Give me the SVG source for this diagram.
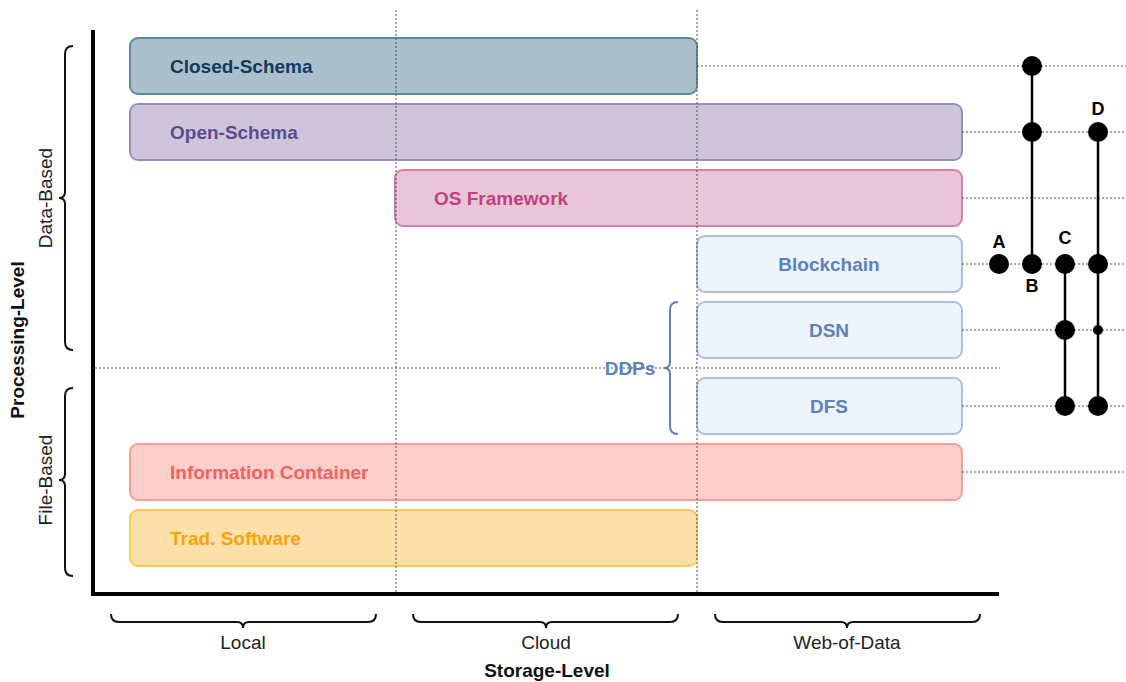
<svg xmlns="http://www.w3.org/2000/svg" width="1126" height="682" viewBox="0 0 1126 682">
<style>
text{font-family:"Liberation Sans",Arial,sans-serif}
.lbl{font-size:19px;font-weight:bold}
.ax{font-size:19px;fill:#222}
.axb{font-size:19px;font-weight:bold;fill:#111}
.dot{stroke:#555;stroke-width:1;stroke-dasharray:2,2;fill:none}
.brace{fill:none;stroke:#111;stroke-width:2}
.box{stroke-width:2}
.pt{fill:#000}
.ln{stroke:#000;stroke-width:2.5}
.let{font-size:18px;font-weight:bold;fill:#000;text-anchor:middle}
</style>
<rect width="1126" height="682" fill="#fff"/>
<g id="boxes">
<g id="closed-schema"><rect class="box" x="130" y="38" width="567" height="56" rx="8" fill="#abc0cd" stroke="#5b8a9f"/><text class="lbl" x="170" y="73" fill="#103a5e">Closed-Schema</text></g>
<g id="open-schema"><rect class="box" x="130" y="104" width="832" height="56" rx="8" fill="#cec5da" stroke="#9b8dbe"/><text class="lbl" x="170" y="139" fill="#5b4b8e">Open-Schema</text></g>
<g id="os-framework"><rect class="box" x="395" y="170" width="567" height="56" rx="8" fill="#e9c6d7" stroke="#d77fa6"/><text class="lbl" x="434" y="205" fill="#c2417d">OS Framework</text></g>
<g id="blockchain"><rect class="box" x="697" y="236" width="265" height="56" rx="8" fill="#eef3fc" stroke="#aabee0"/><text class="lbl" x="829" y="271" fill="#5b82c0" text-anchor="middle">Blockchain</text></g>
<g id="dsn"><rect class="box" x="697" y="302" width="265" height="56" rx="8" fill="#eef3fc" stroke="#aabee0"/><text class="lbl" x="829" y="337" fill="#5b82c0" text-anchor="middle">DSN</text></g>
<g id="dfs"><rect class="box" x="697" y="378" width="265" height="56" rx="8" fill="#eef3fc" stroke="#aabee0"/><text class="lbl" x="829" y="413" fill="#5b82c0" text-anchor="middle">DFS</text></g>
<g id="information-container"><rect class="box" x="130" y="444" width="832" height="56" rx="8" fill="#fdcfcb" stroke="#f79c9b"/><text class="lbl" x="170" y="479" fill="#f06262">Information Container</text></g>
<g id="trad-software"><rect class="box" x="130" y="510" width="567" height="56" rx="8" fill="#fde0a9" stroke="#fcc85c"/><text class="lbl" x="170" y="545" fill="#f5a40c">Trad. Software</text></g>
</g>
<g id="connectors">
<line class="dot" x1="396" y1="10" x2="396" y2="592"/>
<line class="dot" x1="697" y1="10" x2="697" y2="592"/>
<line class="dot" x1="95" y1="368" x2="1000" y2="368"/>
<line class="dot" x1="697" y1="66" x2="1126" y2="66"/>
<line class="dot" x1="962" y1="132" x2="1126" y2="132"/>
<line class="dot" x1="962" y1="198" x2="1126" y2="198"/>
<line class="dot" x1="962" y1="264" x2="1126" y2="264"/>
<line class="dot" x1="962" y1="330" x2="1126" y2="330"/>
<line class="dot" x1="962" y1="406" x2="1126" y2="406"/>
<line class="dot" x1="962" y1="472" x2="1126" y2="472"/>
<line class="ln" x1="1032" y1="66" x2="1032" y2="264"/>
<line class="ln" x1="1065" y1="264" x2="1065" y2="406"/>
<line class="ln" x1="1098" y1="132" x2="1098" y2="406"/>
</g>
<g id="axes">
<line x1="93" y1="30" x2="93" y2="596" stroke="#000" stroke-width="4"/>
<line x1="91" y1="594" x2="999" y2="594" stroke="#000" stroke-width="4"/>
</g>
<g id="points">
<circle class="pt" cx="999" cy="264" r="10"/>
<circle class="pt" cx="1032" cy="66" r="10"/>
<circle class="pt" cx="1032" cy="132" r="10"/>
<circle class="pt" cx="1032" cy="264" r="10"/>
<circle class="pt" cx="1065" cy="264" r="10"/>
<circle class="pt" cx="1065" cy="330" r="10"/>
<circle class="pt" cx="1065" cy="406" r="10"/>
<circle class="pt" cx="1098" cy="132" r="10"/>
<circle class="pt" cx="1098" cy="264" r="10"/>
<circle class="pt" cx="1098" cy="330" r="5"/>
<circle class="pt" cx="1098" cy="406" r="10"/>
<text class="let" x="999" y="248">A</text>
<text class="let" x="1032" y="292">B</text>
<text class="let" x="1065" y="244">C</text>
<text class="let" x="1098" y="115">D</text>
</g>
<g id="ddps">
<path d="M678,302 q-8,0 -8,8 V362 q0,6 -6,6 q6,0 6,6 V426 q0,8 8,8" fill="none" stroke="#5b82c0" stroke-width="2"/>
<text class="lbl" x="630" y="375" fill="#5b82c0" text-anchor="middle">DDPs</text>
</g>
<g id="processing-level">
<path class="brace" d="M73,46 q-8,0 -8,8 V192 q0,6 -6,6 q6,0 6,6 V342 q0,8 8,8"/>
<path class="brace" d="M73,388 q-8,0 -8,8 V474 q0,6 -6,6 q6,0 6,6 V568 q0,8 8,8"/>
<text class="ax" transform="translate(52,198) rotate(-90)" text-anchor="middle">Data-Based</text>
<text class="ax" transform="translate(52,480) rotate(-90)" text-anchor="middle">File-Based</text>
<text class="axb" transform="translate(24,340) rotate(-90)" text-anchor="middle">Processing-Level</text>
</g>
<g id="storage-level">
<path class="brace" d="M111,614 q0,8 8,8 H237 q6,0 6,6 q0,-6 6,-6 H368 q8,0 8,-8"/>
<path class="brace" d="M413,614 q0,8 8,8 H540 q6,0 6,6 q0,-6 6,-6 H670 q8,0 8,-8"/>
<path class="brace" d="M715,614 q0,8 8,8 H841 q6,0 6,6 q0,-6 6,-6 H972 q8,0 8,-8"/>
<text class="ax" x="243" y="649" text-anchor="middle">Local</text>
<text class="ax" x="546" y="649" text-anchor="middle">Cloud</text>
<text class="ax" x="847" y="649" text-anchor="middle">Web-of-Data</text>
<text class="axb" x="547" y="677" text-anchor="middle">Storage-Level</text>
</g>
</svg>
